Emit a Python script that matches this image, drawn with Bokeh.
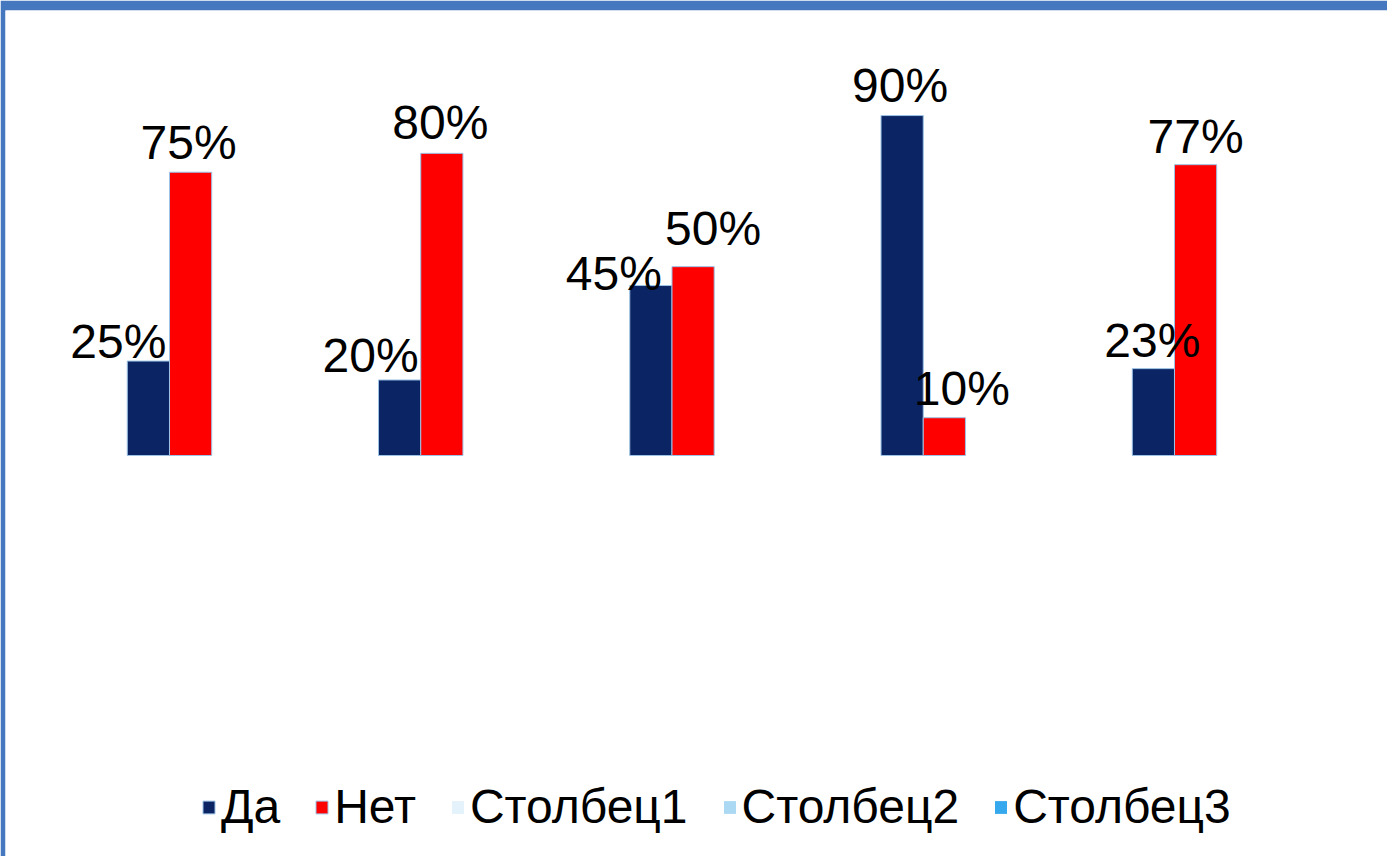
import math
from bokeh.plotting import figure
from bokeh.models import ColumnDataSource, Range1d, Legend, LegendItem
from bokeh.embed import file_html
from bokeh.resources import INLINE
from bokeh.core.properties import value

# ---- data ----
categories = ["1", "2", "3", "4", "5"]
da = [25, 20, 45, 90, 23]
net = [75, 80, 50, 10, 77]
stolbec1 = [None, None, None, None, None]
stolbec2 = [None, None, None, None, None]
stolbec3 = [None, None, None, None, None]
series = ["Да", "Нет", "Столбец1", "Столбец2", "Столбец3"]
colors = ["#0b2463", "#ff0000", "#e4f2fb", "#abd9f4", "#35a8ee"]

# label nudges in screen pixels (style only)
da_dx = [-30, -29, -37, -2, -1]
da_dy = [2, 6, -6, 12, 10]
net_dx = [-2, -1.5, 20, 17.5, 0]
net_dy = [12, 13, 20, 11, 10]
BASE_FIX = 18

FONT = "Liberation Sans"
FSIZE = "48px"
BAR_W = 0.168

xc = [i + 0.5 for i in range(len(categories))]
src_da = ColumnDataSource(dict(
    x=[v - BAR_W / 2 for v in xc], top=da,
    lab=[f"{v}%" for v in da],
    xo=da_dx, yo=[-d - BASE_FIX for d in da_dy]))
src_net = ColumnDataSource(dict(
    x=[v + BAR_W / 2 for v in xc], top=net,
    lab=[f"{v}%" for v in net],
    xo=net_dx, yo=[-d - BASE_FIX for d in net_dy]))

p = figure(width=1387, height=856, output_backend="svg", toolbar_location=None,
           tools="", x_axis_location=None, y_axis_location=None,
           x_range=Range1d(-0.1527, 5.3478), y_range=Range1d(-106.17, 117.82),
           min_border_top=10, min_border_left=5, min_border_right=0,
           min_border_bottom=0)
p.border_fill_color = "#4678c0"
p.background_fill_color = "#ffffff"
p.outline_line_color = None
p.xgrid.visible = False
p.ygrid.visible = False

r_da = p.vbar(x="x", top="top", bottom=0, width=BAR_W, source=src_da,
              fill_color=colors[0], line_color="#9cc3e6", line_width=1)
r_net = p.vbar(x="x", top="top", bottom=0, width=BAR_W, source=src_net,
               fill_color=colors[1], line_color="#9cc3e6", line_width=1)
extra = []
for vals, c in zip([stolbec1, stolbec2, stolbec3], colors[2:]):
    tops = [math.nan if v is None else v for v in vals]
    extra.append(p.vbar(x=xc, top=tops, bottom=0, width=BAR_W,
                        fill_color=c, line_color=None))

for src in (src_da, src_net):
    p.text(x="x", y="top", text="lab", source=src, x_offset="xo", y_offset="yo",
           text_align="center", text_baseline="alphabetic",
           text_font=value(FONT), text_font_size=FSIZE, text_color="#000000")

legend = Legend(
    items=[LegendItem(label=s, renderers=[r]) for s, r in zip(series, [r_da, r_net] + extra)],
    orientation="horizontal", location=(196, 22),
    glyph_width=15, glyph_height=16, label_standoff=5, spacing=34,
    padding=0, margin=0, border_line_color=None, background_fill_alpha=0,
    label_text_font=FONT, label_text_font_size=FSIZE, label_text_color="#000000")
p.add_layout(legend, "center")

open("out.html", "w").write(file_html(p, INLINE))
